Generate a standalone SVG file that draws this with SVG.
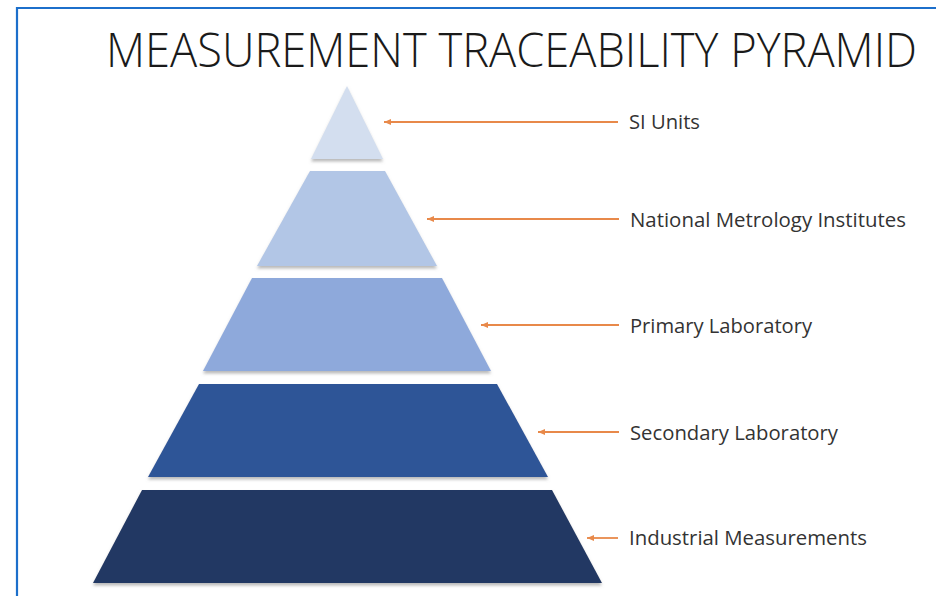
<svg xmlns="http://www.w3.org/2000/svg" width="936" height="596" viewBox="0 0 936 596">
  <style>
    .title { font-family: "Open Sans", "Liberation Sans", sans-serif; font-weight: 300; font-size: 44px; fill: #1a1a1a; }
    .label { font-family: "Open Sans", "Liberation Sans", sans-serif; font-size: 19.5px; fill: #333333; }
    .conn { stroke: #E8894A; stroke-width: 1.8; fill: none; marker-end: url(#ah); }
    .tier { filter: url(#sh); }
  </style>
  <defs>
    <marker id="ah" markerWidth="8" markerHeight="8" refX="7" refY="4" orient="auto" markerUnits="userSpaceOnUse">
      <path d="M0,1 L7,4 L0,7 Z" fill="#E8894A"/>
    </marker>
    <filter id="sh" x="-10%" y="-10%" width="120%" height="130%">
      <feDropShadow dx="0" dy="2.5" stdDeviation="1.5" flood-color="#7f7f7f" flood-opacity="0.55"/>
    </filter>
  </defs>
  <rect width="936" height="596" fill="#ffffff"/>
  <path d="M17,596 L17,8 L936,8" fill="none" stroke="#1C6FCB" stroke-width="2.2"/>
  <g transform="translate(106,67) scale(1,1.1)">
    <text class="title" x="0" y="0" textLength="811" lengthAdjust="spacingAndGlyphs">MEASUREMENT TRACEABILITY PYRAMID</text>
  </g>

  <g id="tier-si">
    <polygon class="tier" points="347,86 383,159 311,159" fill="#D3DEEF"/>
  </g>
  <g id="tier-nmi">
    <polygon class="tier" points="310,171 385,171 437,266 257,266" fill="#B2C6E6"/>
  </g>
  <g id="tier-primary">
    <polygon class="tier" points="252,278 442,278 491,371 203,371" fill="#8EA9DB"/>
  </g>
  <g id="tier-secondary">
    <polygon class="tier" points="199,384 497,384 548,477 148,477" fill="#2F5597"/>
  </g>
  <g id="tier-industrial">
    <polygon class="tier" points="142,490 552,490 602,583 93,583" fill="#203864"/>
  </g>

  <g id="connectors">
    <line class="conn" x1="618" y1="122" x2="384" y2="122"/>
    <line class="conn" x1="619" y1="219" x2="427" y2="219"/>
    <line class="conn" x1="619" y1="325" x2="481" y2="325"/>
    <line class="conn" x1="619" y1="432" x2="538" y2="432"/>
    <line class="conn" x1="618" y1="538" x2="587" y2="538"/>
  </g>

  <g id="label-si"><text class="label" x="629" y="129" textLength="71" lengthAdjust="spacingAndGlyphs">SI Units</text></g>
  <g id="label-nmi"><text class="label" x="630" y="227" textLength="276" lengthAdjust="spacingAndGlyphs">National Metrology Institutes</text></g>
  <g id="label-primary"><text class="label" x="630" y="333" textLength="182" lengthAdjust="spacingAndGlyphs">Primary Laboratory</text></g>
  <g id="label-secondary"><text class="label" x="630" y="440" textLength="208" lengthAdjust="spacingAndGlyphs">Secondary Laboratory</text></g>
  <g id="label-industrial"><text class="label" x="629" y="545" textLength="238" lengthAdjust="spacingAndGlyphs">Industrial Measurements</text></g>
</svg>
